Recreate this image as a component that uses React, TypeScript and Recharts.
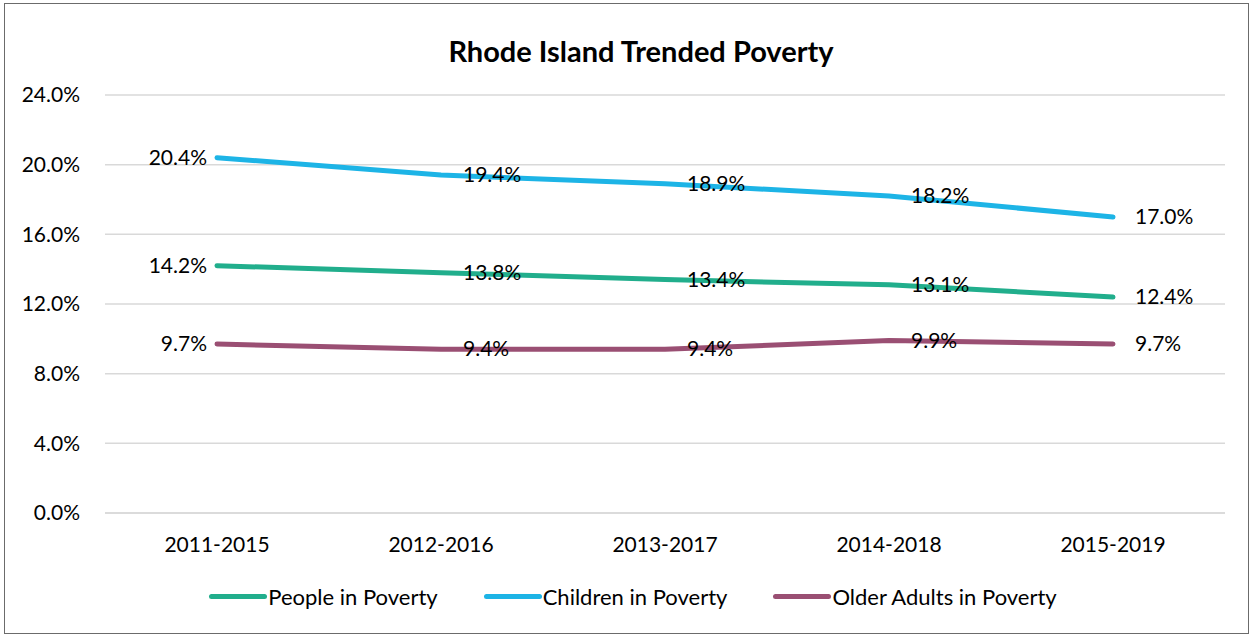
import { LineChart, Line, XAxis, YAxis, CartesianGrid, LabelList } from 'recharts';

const periods = ['2011-2015', '2012-2016', '2013-2017', '2014-2018', '2015-2019'];
const people = [14.2, 13.8, 13.4, 13.1, 12.4];
const children = [20.4, 19.4, 18.9, 18.2, 17.0];
const olderAdults = [9.7, 9.4, 9.4, 9.9, 9.7];
const yTicks = [0, 4, 8, 12, 16, 20, 24];

const series = [
  { key: 'people', name: 'People in Poverty', color: '#21ae8c' },
  { key: 'children', name: 'Children in Poverty', color: '#1db4e6' },
  { key: 'older', name: 'Older Adults in Poverty', color: '#9a4f73' },
];

const data = periods.map((period, i) => ({
  period,
  people: people[i],
  children: children[i],
  older: olderAdults[i],
}));

const FONT = 'Lato, "Open Sans", sans-serif';

function PointLabel(props: any) {
  const { x, y, value, index } = props;
  const first = index === 0;
  return (
    <text
      x={first ? x - 10 : x + 22}
      y={y}
      dy={7}
      textAnchor={first ? 'end' : 'start'}
      fontSize={21}
      fontFamily={FONT}
      fill="#000"
    >
      {value.toFixed(1)}%
    </text>
  );
}

export default function App() {
  return (
    <div style={{ position: 'absolute', left: 0, top: 0, width: 1252, height: 636, background: '#fff', fontFamily: FONT }}>
      <div
        style={{
          position: 'absolute',
          left: 4,
          top: 3,
          width: 1243,
          height: 629,
          border: '1px solid #6b6b6b',
        }}
      />
      <div
        style={{
          position: 'absolute',
          top: 33,
          left: 0,
          width: 1282,
          textAlign: 'center',
          fontSize: 29,
          fontWeight: 700,
          color: '#000',
        }}
      >
        Rhode Island Trended Poverty
      </div>
      <div style={{ position: 'absolute', left: 0, top: 0 }}>
        <LineChart width={1252} height={636} data={data} margin={{ top: 95, right: 27, bottom: 93, left: 0 }}>
          <CartesianGrid vertical={false} stroke="#d9d9d9" strokeWidth={1.5} />
          <XAxis
            dataKey="period"
            padding={{ left: 112, right: 112 }}
            tickLine={false}
            axisLine={{ stroke: '#d9d9d9', strokeWidth: 1.5 }}
            tickMargin={18}
            tick={{ fill: '#000', fontSize: 21, fontFamily: FONT }}
          />
          <YAxis
            width={105}
            domain={[0, 24]}
            ticks={yTicks}
            tickLine={false}
            axisLine={false}
            tickMargin={19}
            tickFormatter={(v: number) => `${v.toFixed(1)}%`}
            tick={{ fill: '#000', fontSize: 21, fontFamily: FONT }}
          />
          {series.map((s) => (
            <Line
              key={s.key}
              dataKey={s.key}
              name={s.name}
              stroke={s.color}
              strokeWidth={5}
              strokeLinecap="round"
              dot={false}
              activeDot={false}
              isAnimationActive={false}
            >
              <LabelList dataKey={s.key} content={PointLabel} />
            </Line>
          ))}
        </LineChart>
      </div>
      <div
        style={{
          position: 'absolute',
          top: 583,
          left: 0,
          width: 1266,
          display: 'flex',
          justifyContent: 'center',
          fontSize: 22,
          color: '#000',
        }}
      >
        {series.map((s) => (
          <div key={s.key} style={{ display: 'flex', alignItems: 'center', margin: '0 23px' }}>
            <div style={{ width: 58, height: 5, borderRadius: 3, background: s.color, marginRight: 1 }} />
            <span>{s.name}</span>
          </div>
        ))}
      </div>
    </div>
  );
}
